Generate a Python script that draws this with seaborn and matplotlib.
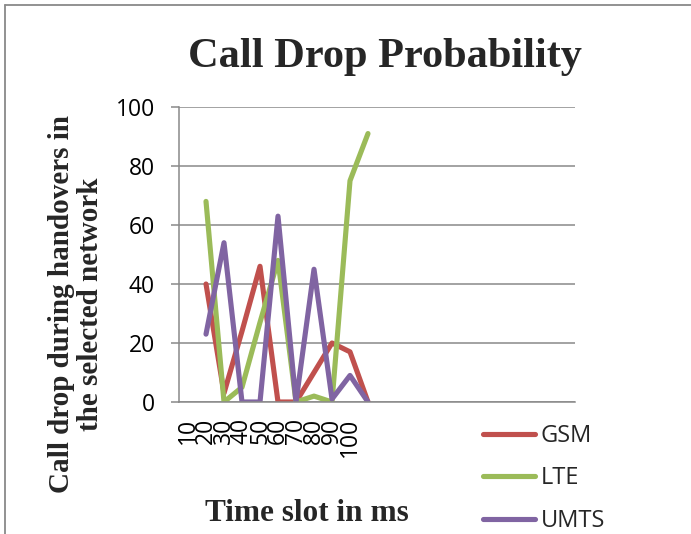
import pandas as pd
import matplotlib
matplotlib.use("Agg")
import matplotlib.pyplot as plt
import seaborn as sns
from matplotlib.lines import Line2D

# x axis category labels (only the first ten are labelled)
time_slots = ["10", "20", "30", "40", "50", "60", "70", "80", "90", "100"]
n_categories = 22

# values
gsm = [40, 3, 24, 46, 0, 0, 10, 20, 17, 0]
lte = [68, 0, 5, 27, 48, 0, 2, 0, 75, 91]
umts = [23, 54, 0, 0, 63, 0, 45, 1, 9, 0]

networks = ["GSM", "LTE", "UMTS"]
colors = ["#C0504D", "#9BBB59", "#8064A2"]

# long format table for seaborn; series start one category to the right
rows = []
for name, vals in zip(networks, [gsm, lte, umts]):
    for i, v in enumerate(vals):
        rows.append({"slot": i + 1, "value": v, "network": name})
df = pd.DataFrame(rows)

sns.set_theme(style="white")
plt.rcParams["font.family"] = ["Open Sans", "DejaVu Sans"]

W, H = 691, 534
fig = plt.figure(figsize=(W / 100, H / 100), dpi=100)
ax = fig.add_axes([179 / W, 1 - 402 / H, (575 - 179) / W, (402 - 107) / H])

grey = "#898989"
ax.set_ylim(0, 100)
ax.set_xlim(-0.5, n_categories - 0.5)
ax.set_yticks(range(0, 101, 20))
ax.yaxis.grid(True, color=grey, linewidth=1.1)
ax.set_axisbelow(True)

sns.lineplot(data=df, x="slot", y="value", hue="network", palette=colors,
             linewidth=3.7, ax=ax, solid_capstyle="round", solid_joinstyle="round")

ticks = list(range(n_categories))
labels = time_slots + [""] * (n_categories - len(time_slots))
ax.set_xticks(ticks)
ax.set_xticklabels(labels, rotation=90, fontsize=16.5, color="black")
ax.tick_params(axis="x", length=0, pad=11.5)
ax.tick_params(axis="y", length=5.8, width=1.1, color=grey, pad=11.5,
               labelsize=16.5, labelcolor="black", left=True)

for side in ["top", "right"]:
    ax.spines[side].set_visible(False)
for side in ["left", "bottom"]:
    ax.spines[side].set_color(grey)
    ax.spines[side].set_linewidth(1.1)
ax.set_xlabel("")
ax.set_ylabel("")

handles, labs = ax.get_legend_handles_labels()
ax.get_legend().remove()
fig.legend(handles, labs, loc="upper left", bbox_to_anchor=(483 / W, 1 - 424 / H),
           frameon=False, fontsize=17, handlelength=2.2, handletextpad=0.25,
           labelspacing=0.78, borderpad=0, borderaxespad=0)

serif = ["Liberation Serif", "DejaVu Serif"]
fig.text(385 / W, 1 - 67 / H, "Call Drop Probability", family=serif,
         fontweight="bold", fontsize=30.5, ha="center", va="baseline")
fig.text(307 / W, 1 - 521 / H, "Time slot in ms", family=serif,
         fontweight="bold", fontsize=22.5, ha="center", va="baseline")
fig.text(76 / W, 1 - 304 / H, "Call drop during handovers in\nthe selected network",
         family=serif, fontweight="bold", fontsize=21, rotation=90,
         ha="center", va="center", multialignment="center", linespacing=1.12)

# chart area border (only left and top edges show in the crop)
fig.add_artist(Line2D([5.5 / W, 5.5 / W], [0, 1 - 4.5 / H], color=grey, linewidth=1.3))
fig.add_artist(Line2D([5.5 / W, 1], [1 - 4.5 / H, 1 - 4.5 / H], color=grey, linewidth=1.3))

fig.savefig("out.png", dpi=100)
